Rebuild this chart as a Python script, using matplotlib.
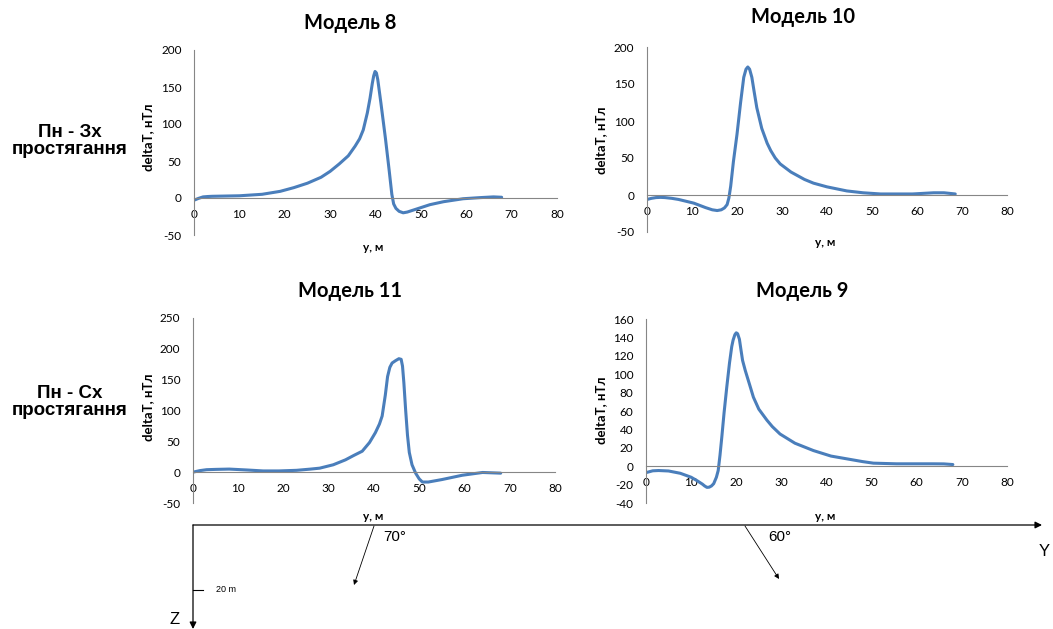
import matplotlib.pyplot as plt
import numpy as np

plt.rcParams['axes.unicode_minus'] = False

# --- data ---
m8_y = [0, 1, 2, 3, 4, 10, 15, 19, 22, 25, 28, 30, 32, 34, 35.5, 36.5, 37.3, 38.2, 38.8, 39.3, 39.6, 39.9, 40.2, 40.5, 41.2, 42.2, 43.0, 43.6, 44.0, 44.5, 45.2, 46.1, 47, 48, 50, 52, 55, 59.3, 63, 66, 67.8]
m8_dT = [-3, -0.5, 1.5, 2, 2.3, 3, 5, 9, 14, 20, 28, 36, 46, 57, 70, 80, 92, 115, 135, 155, 165, 171, 169, 160, 128, 80, 38, 5, -8, -14, -18, -20, -19, -17, -13, -9, -5, -1, 0.5, 1.5, 1]

m10_y = [0, 1, 2, 3, 4, 5.5, 7, 10.4, 13, 14.5, 15.6, 16.5, 17.2, 17.8, 18.2, 18.6, 19.2, 20, 20.8, 21.5, 22, 22.4, 22.8, 23.3, 23.8, 24.4, 25.5, 26.7, 27.5, 28.5, 29.6, 32, 35, 37, 40, 44.4, 48, 51.9, 55, 59, 63.7, 66, 68.5]
m10_dT = [-6, -4.5, -3.5, -3.2, -3.5, -4.5, -6, -11, -17, -20, -21, -20, -17.5, -13, -4, 12, 45, 82, 125, 159, 170, 173, 170, 159, 140, 118, 90, 70, 60, 50, 42, 31, 21, 16, 11, 5.5, 3, 1.4, 1.4, 1.4, 3, 3, 1.4]

m11_y = [0, 1.5, 3, 5, 8, 12, 15.5, 19, 22.9, 26, 28, 31, 33.7, 35.5, 37.4, 39, 40.3, 41.2, 41.8, 42.5, 43.0, 43.5, 44.0, 44.8, 45.5, 46, 46.3, 46.6, 47.0, 47.4, 47.8, 48.4, 49.2, 50, 50.7, 52, 55, 59.5, 64, 68]
m11_dT = [0, 2.5, 4, 4.5, 5, 3.5, 2, 2, 3, 5, 6.5, 12, 20, 27, 34, 48, 64, 78, 91, 125, 155, 170, 177, 181, 184, 183, 172, 145, 100, 60, 32, 12, -1.6, -11, -16, -16, -12, -5, -0.5, -1.6]

m9_y = [0, 1.5, 2.8, 5, 7.6, 10, 11.3, 12.5, 13, 13.5, 14, 14.5, 15, 15.6, 16, 16.4, 16.8, 17.3, 17.9, 18.5, 19, 19.3, 19.7, 20, 20.3, 20.7, 21.0, 21.4, 22, 23, 23.8, 25, 26.8, 28, 29.7, 33, 37.1, 41, 44.5, 48, 50.4, 55.5, 60, 63.6, 66, 68]
m9_dT = [-7, -5, -4.7, -5.2, -7.7, -12, -15.7, -19.5, -21.5, -23, -22.8, -21.5, -19, -12, -4.7, 12, 31.7, 58, 86, 112, 130, 137, 143, 145, 144, 138, 128, 115, 104, 88, 75, 62, 50, 43, 35, 25, 17, 11, 8, 5, 3.3, 2.6, 2.6, 2.6, 2.5, 1.8]

panels = [
    # title, y, dT, ylim, yticks, axes box (px), title pos, xlabel pos, ylabel pos
    ('Модель 8', m8_y, m8_dT, (-50, 200), np.arange(-50, 201, 50),
     [194, 50, 557, 235], (350, 23), (373, 247), (148, 137)),
    ('Модель 10', m10_y, m10_dT, (-50, 200), np.arange(-50, 201, 50),
     [647, 47, 1007, 232], (803, 17), (825, 243), (601, 140)),
    ('Модель 11', m11_y, m11_dT, (-50, 250), np.arange(-50, 251, 50),
     [193, 318, 555, 503], (350, 291), (373, 517), (148, 407)),
    ('Модель 9', m9_y, m9_dT, (-40, 160), np.arange(-40, 161, 20),
     [646, 319, 1007, 503], (802, 291), (825, 517), (601, 410)),
]

W, H = 1053, 629
fig = plt.figure(figsize=(W / 100, H / 100), dpi=100)
fnt = ['Lato', 'Open Sans', 'DejaVu Sans']
grey = '#868686'
blue = '#4a7ebb'

for title, xs, ys, ylim, yt, (l, t, r, b), tpos, xlpos, ylpos in panels:
    ax = fig.add_axes([l / W, 1 - b / H, (r - l) / W, (b - t) / H])
    ax.plot(xs, ys, color=blue, lw=2.2, solid_capstyle='round', solid_joinstyle='round')
    ax.set_xlim(0, 80)
    ax.set_ylim(*ylim)
    ax.set_xticks(np.arange(0, 81, 10))
    ax.set_yticks(yt)
    ax.spines['top'].set_visible(False)
    ax.spines['right'].set_visible(False)
    ax.spines['bottom'].set_position(('data', 0))
    for s in ('bottom', 'left'):
        ax.spines[s].set_color(grey)
        ax.spines[s].set_linewidth(0.8)
    ax.tick_params(axis='x', length=0, pad=8, labelsize=8.5)
    ax.tick_params(axis='y', length=0, pad=9, labelsize=8.5)
    for lab in ax.get_xticklabels() + ax.get_yticklabels():
        lab.set_family(fnt)
    ax.patch.set_alpha(0)
    fig.text(tpos[0] / W, 1 - tpos[1] / H, title, ha='center', va='center',
             fontsize=14.5, fontweight='bold', family=fnt)
    fig.text(xlpos[0] / W, 1 - xlpos[1] / H, 'y, м', ha='center', va='center',
             fontsize=8.5, fontweight='bold', family=fnt)
    fig.text(ylpos[0] / W, 1 - ylpos[1] / H, 'deltaT, нТл', ha='center', va='center',
             rotation=90, fontsize=9.5, fontweight='bold', family=fnt)

# row labels
for yy, txt in [(141, 'Пн - Зх\nпростягання'), (402, 'Пн - Сх\nпростягання')]:
    fig.text(70 / W, 1 - yy / H, txt, ha='center', va='center', fontsize=13.5,
             fontweight='bold', family='Liberation Sans', linespacing=1.0)

# section sketch below the charts, in pixel coordinates
sk = fig.add_axes([0, 0, 1, 1])
sk.set_xlim(0, W)
sk.set_ylim(H, 0)
sk.axis('off')
arr = dict(arrowstyle='-|>', color='black', lw=0.9, mutation_scale=10, shrinkA=0, shrinkB=0)
sk.annotate('', xy=(1042, 525), xytext=(193, 525), arrowprops=arr, annotation_clip=False)
sk.annotate('', xy=(193, 629), xytext=(193, 525), arrowprops=arr, annotation_clip=False)
thin = dict(arrowstyle='-|>', color='black', lw=0.6, mutation_scale=7, shrinkA=0, shrinkB=0)
sk.annotate('', xy=(354, 585), xytext=(374, 526), arrowprops=thin, annotation_clip=False)
sk.annotate('', xy=(779, 579), xytext=(745, 526), arrowprops=thin, annotation_clip=False)
sk.plot([193, 203], [590, 590], color='black', lw=0.8)
sk.text(216, 590, '20 m', fontsize=6.5, va='center', family='Liberation Sans')
sk.text(383, 537, '70°', fontsize=11, va='center', family='Liberation Sans')
sk.text(768, 537, '60°', fontsize=11, va='center', family='Liberation Sans')
sk.text(1039, 552, 'Y', fontsize=12, va='center', family='Liberation Sans')
sk.text(170, 619, 'Z', fontsize=12, va='center', family='Liberation Sans')

fig.savefig('out.png', dpi=100)
